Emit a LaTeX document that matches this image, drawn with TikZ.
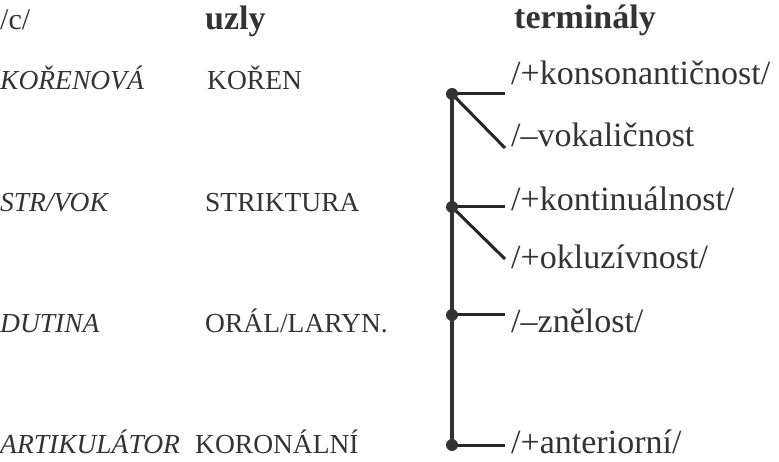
\documentclass[tikz,border=0pt]{standalone}
\usepackage{fontspec}
\setmainfont{Liberation Serif}
\definecolor{ink}{HTML}{333333}
\begin{document}
\begin{tikzpicture}[x=1pt,y=-1pt,
  every node/.style={inner sep=0pt,anchor=base west,text=ink},
  head/.style={font=\fontsize{34}{40}\selectfont\bfseries},
  feat/.style={font=\fontsize{27.5}{32}\selectfont\itshape},
  nodelab/.style={font=\fontsize{27.5}{32}\selectfont},
  term/.style={font=\fontsize{34}{40}\selectfont},
  branch/.style={draw=black!85,line width=3pt},
  trunk/.style={draw=ink,line width=3.5pt},
  dot/.style={fill=ink}]
\useasboundingbox (0,0) rectangle (779,462);
% headers
\node[font=\fontsize{30}{36}\selectfont] (c) at (0,30) {/c/};
\node[head] (uzly) at (205,30) {uzly};
\node[head] (term) at (514,29) {terminály};
% left column
\node[feat] (f1) at (0,90) {KOŘENOVÁ};
\node[feat] (f2) at (0,212) {STR/VOK};
\node[feat] (f3) at (0,332) {DUTINA};
\node[feat] (f4) at (0,453) {ARTIKULÁTOR};
% middle column
\node[nodelab] (n1) at (207,90) {KOŘEN};
\node[nodelab] (n2) at (205,212) {STRIKTURA};
\node[nodelab] (n3) at (205,332) {ORÁL/LARYN.};
\node[nodelab] (n4) at (195,453) {KORONÁLNÍ};
% terminals
\node[term] (t1) at (511,85) {/+konsonantičnost/};
\node[term] (t2) at (511,147) {/–vokaličnost};
\node[term] (t3) at (511,211) {/+kontinuálnost/};
\node[term] (t4) at (511,269) {/+okluzívnost/};
\node[term] (t5) at (511,332) {/–znělost/};
\node[term] (t6) at (511,453) {/+anteriorní/};
% tree points
\coordinate (d1) at (452,94);
\coordinate (d2) at (452,207);
\coordinate (d3) at (452,315);
\coordinate (d4) at (452,445);
\coordinate (e1) at (505,94);
\coordinate (e2) at (505,148);
\coordinate (e3) at (505,207);
\coordinate (e4) at (505,259);
\coordinate (e5) at (505,315);
\coordinate (e6) at (505,445);
\path[trunk] (d1) -- (d4);
\path[branch] (d1) -- (e1);
\path[branch] (d1) -- (e2);
\path[branch] (d2) -- (e3);
\path[branch] (d2) -- (e4);
\path[branch] (d3) -- (e5);
\path[branch] (d4) -- (e6);
\foreach \d in {d1,d2,d3,d4} \fill[dot] (\d) circle (6);
\end{tikzpicture}
\end{document}
